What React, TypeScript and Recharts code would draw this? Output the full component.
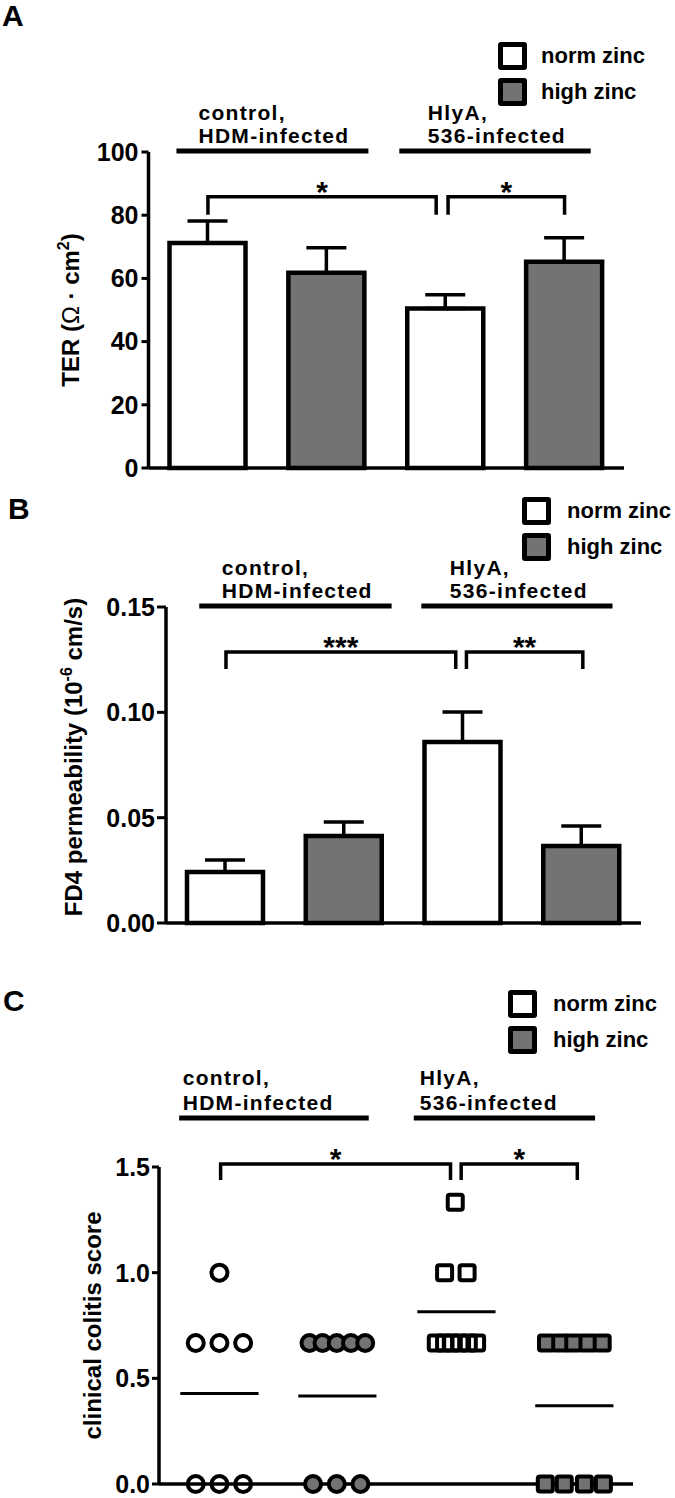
import React from "react"
import {
   BarChart, Bar, Cell, ErrorBar, XAxis, YAxis, Label, Legend,
   ReferenceLine, ReferenceDot, ScatterChart, Scatter,
} from "recharts"

const FONT = '"Liberation Sans", Arial, Helvetica, sans-serif'
const GRAY = "#737373"

// x order of the four groups
const categories = ["control norm zinc", "control high zinc", "HlyA norm zinc", "HlyA high zinc"]
const zincLevel = ["norm", "high", "norm", "high"]
const legendLabels = ["norm zinc", "high zinc"]
const groupNames = [["control,", "HDM-infected"], ["HlyA,", "536-infected"]]

// A: TER, mean + SEM
const terMean = [71.2, 61.8, 50.5, 65.3]
const terSem = [7.0, 7.9, 4.3, 7.6]
const terTicks = [0, 20, 40, 60, 80, 100]
const terSig = ["*", "*"]

// B: FD4 permeability, mean + SEM
const fd4Mean = [0.0242, 0.0413, 0.0859, 0.0365]
const fd4Sem = [0.0057, 0.0066, 0.0142, 0.0095]
const fd4Ticks = [0, 0.05, 0.1, 0.15]
const fd4Sig = ["***", "**"]

// C: clinical colitis score per animal, and its column-scatter position
const scoreCtrlNorm = [1.0, 0.667, 0.667, 0.667, 0, 0, 0]
const posCtrlNorm = [0.51, 0.31, 0.51, 0.71, 0.31, 0.51, 0.71]
const scoreCtrlHigh = [0.667, 0.667, 0.667, 0.667, 0.667, 0, 0, 0]
const posCtrlHigh = [1.27, 1.38, 1.5, 1.62, 1.74, 1.3, 1.5, 1.7]
const scoreHlyNorm = [1.333, 1.0, 1.0, 0.667, 0.667, 0.667, 0.667, 0.667, 0.667]
const posHlyNorm = [2.5, 2.41, 2.6, 2.34, 2.41, 2.47, 2.54, 2.61, 2.68]
const scoreHlyHigh = [0.667, 0.667, 0.667, 0.667, 0.667, 0, 0, 0, 0]
const posHlyHigh = [3.27, 3.39, 3.5, 3.62, 3.74, 3.26, 3.42, 3.59, 3.75]
const scoreTicks = [0, 0.5, 1.0, 1.5]
const scoreSig = ["*", "*"]

// slot index of each bar on the hidden numeric axis used for annotations
const terData = categories.map((c, i) => ({
   category: c, slot: i + 0.5, zinc: zincLevel[i], ter: terMean[i], terErr: [0, terSem[i]],
}))
const fd4Data = categories.map((c, i) => ({
   category: c, slot: i + 0.5, zinc: zincLevel[i], fd4: fd4Mean[i], fd4Err: [0, fd4Sem[i]],
}))
const scoreGroups = [
   { scores: scoreCtrlNorm, pos: posCtrlNorm, marker: "circle" },
   { scores: scoreCtrlHigh, pos: posCtrlHigh, marker: "circle" },
   { scores: scoreHlyNorm, pos: posHlyNorm, marker: "square" },
   { scores: scoreHlyHigh, pos: posHlyHigh, marker: "square" },
].map((g, i) => ({
   ...g,
   zinc: zincLevel[i],
   points: g.scores.map((s, j) => ({ x: g.pos[j], y: s })),
   mean: g.scores.reduce((a, b) => a + b, 0) / g.scores.length,
   center: (Math.min(...g.pos) + Math.max(...g.pos)) / 2,
}))

const zincFill = (z: string) => (z === "norm" ? "#fff" : GRAY)

const tickStyle = { fontSize: 25, fontWeight: 700, fill: "#000", fontFamily: FONT }
const axisLineStyle = { stroke: "#000", strokeWidth: 3.5 }
const tickLineStyle = { stroke: "#000", strokeWidth: 3 }

const YTitle = ({ viewBox, x, dy = 0, children }: any) => {
   const cy = viewBox.y + viewBox.height / 2 + dy
   return (
      <text x={x} y={cy} transform={`rotate(-90 ${x} ${cy})`} textAnchor="middle"
         fontFamily={FONT} fontWeight={700} fontSize={24} fill="#000">
         {children}
      </text>
   )
}

const ZincLegend = ({ gap }: { gap: number }) => (
   <div style={{ fontFamily: FONT, fontWeight: 700, fontSize: 22, color: "#000" }}>
      {legendLabels.map((lab, i) => (
         <div key={lab} style={{ display: "flex", alignItems: "center", height: 28, marginBottom: i === 0 ? 8 : 0, whiteSpace: "nowrap" }}>
            <div style={{ width: 29, height: 28, boxSizing: "border-box", border: "5px solid #000", borderRadius: 3, background: i === 0 ? "#fff" : GRAY }} />
            <span style={{ marginLeft: gap }}>{lab}</span>
         </div>
      ))}
   </div>
)

// group header: thick line plus two-line text above it
const headerText = (lines: string[], firstDy: number) => (p: any) => (
   <text x={p.cx} y={p.cy} fontFamily={FONT} fontWeight={700} fontSize={21} letterSpacing={1.3} fill="#000">
      <tspan x={p.cx} dy={firstDy}>{lines[0]}</tspan>
      <tspan x={p.cx} dy={-firstDy - 8}>{lines[1]}</tspan>
   </text>
)

const renderHeaders = (y: number, spans: number[][], labelX: number[], firstDy: number, xAxisId: any) =>
   spans.flatMap((s, i) => [
      <ReferenceLine key={`hl${i}`} xAxisId={xAxisId} ifOverflow="visible" stroke="#000" strokeWidth={5}
         segment={[{ x: s[0], y }, { x: s[1], y }]} />,
      <ReferenceDot key={`ht${i}`} xAxisId={xAxisId} x={labelX[i]} y={y} ifOverflow="visible"
         shape={headerText(groupNames[i], firstDy)} />,
   ])

// significance bracket with its stars
const bracketShape = (label: string, drop: number) => (p: any) => (
   <g>
      <path d={`M${p.x1},${p.y1 + drop}V${p.y1}H${p.x2}V${p.y1 + drop}`} fill="none" stroke="#000" strokeWidth={3.5} />
      <text x={(p.x1 + p.x2) / 2} y={p.y1 + 5} textAnchor="middle" fontFamily={FONT} fontWeight={700} fontSize={30} fill="#000">{label}</text>
   </g>
)

const renderBrackets = (y: number, spans: number[][], labels: string[], drop: number, xAxisId: any) =>
   spans.map((s, i) => (
      <ReferenceLine key={`br${i}`} xAxisId={xAxisId} ifOverflow="visible"
         segment={[{ x: s[0], y }, { x: s[1], y }]} shape={bracketShape(labels[i], drop)} />
   ))

const TerChart = () => (
   <BarChart width={675} height={490} data={terData} margin={{ top: 152, right: 51, bottom: 20, left: 0 }}>
      <XAxis dataKey="category" tick={false} tickLine={false} axisLine={axisLineStyle} height={2} />
      <XAxis xAxisId="num" dataKey="slot" type="number" domain={[0, 4]} hide allowDataOverflow />
      <YAxis width={148.5} domain={[0, 100]} ticks={terTicks} interval={0} tick={tickStyle}
         tickSize={7} tickMargin={3} tickLine={tickLineStyle} axisLine={axisLineStyle}>
         <Label content={(p: any) => (
            <YTitle viewBox={p.viewBox} x={79}>
               TER (<tspan fontWeight={400}>Ω</tspan>{"\u00a0\u00b7\u00a0"}cm<tspan dy={-10} fontSize={16}>2</tspan><tspan dy={10}>)</tspan>
            </YTitle>
         )} />
      </YAxis>
      <Bar dataKey="ter" barSize={76} stroke="#000" strokeWidth={4.5} isAnimationActive={false}>
         {terData.map((d) => <Cell key={d.category} fill={zincFill(d.zinc)} />)}
         <ErrorBar dataKey="terErr" width={20} stroke="#000" strokeWidth={3.5} direction="y" isAnimationActive={false} />
      </Bar>
      {renderHeaders(100.3, [[0.235, 1.85], [2.11, 3.72]], [0.42, 2.35], -31, "num")}
      {renderBrackets(85.8, [[0.5, 2.42], [2.52, 3.5]], terSig, 18, "num")}
      <Legend layout="horizontal" verticalAlign="middle" align="center" content={() => <ZincLegend gap={14} />}
         wrapperStyle={{ left: 498, top: 42, width: "auto" }} />
   </BarChart>
)

const Fd4Chart = () => (
   <BarChart width={675} height={460} data={fd4Data} margin={{ top: 127, right: 34, bottom: 15, left: 0 }}>
      <XAxis dataKey="category" tick={false} tickLine={false} axisLine={axisLineStyle} height={2} />
      <XAxis xAxisId="num" dataKey="slot" type="number" domain={[0, 4]} hide allowDataOverflow />
      <YAxis width={166} domain={[0, 0.15]} ticks={fd4Ticks} interval={0} tick={tickStyle}
         tickFormatter={(v: number) => v.toFixed(2)}
         tickSize={9} tickMargin={2} tickLine={tickLineStyle} axisLine={axisLineStyle}>
         <Label content={(p: any) => (
            <YTitle viewBox={p.viewBox} x={82} dy={-8}>
               FD4 permeability (10<tspan dy={-10} fontSize={16}>-6</tspan><tspan dy={10}> cm/s)</tspan>
            </YTitle>
         )} />
      </YAxis>
      <Bar dataKey="fd4" barSize={76} stroke="#000" strokeWidth={4.5} isAnimationActive={false}>
         {fd4Data.map((d) => <Cell key={d.category} fill={zincFill(d.zinc)} />)}
         <ErrorBar dataKey="fd4Err" width={20} stroke="#000" strokeWidth={3.5} direction="y" isAnimationActive={false} />
      </Bar>
      {renderHeaders(0.1505, [[0.28, 1.9], [2.15, 3.76]], [0.47, 2.39], -31, "num")}
      {renderBrackets(0.1286, [[0.505, 2.44], [2.53, 3.51]], fd4Sig, 17, "num")}
      <Legend layout="horizontal" verticalAlign="middle" align="center" content={() => <ZincLegend gap={16} />}
         wrapperStyle={{ left: 522, top: 17, width: "auto" }} />
   </BarChart>
)

const markerShape = (marker: string, fill: string) => (p: any) =>
   marker === "circle" ? (
      <circle cx={p.cx} cy={p.cy} r={8} fill={fill} stroke="#000" strokeWidth={4} />
   ) : (
      <rect x={p.cx - 7.5} y={p.cy - 7.5} width={15} height={15} rx={2} fill={fill} stroke="#000" strokeWidth={4} />
   )

const ScoreChart = () => (
   <ScatterChart width={675} height={558} margin={{ top: 227, right: 42, bottom: 12, left: 0 }}>
      <XAxis type="number" dataKey="x" domain={[0, 4]} allowDataOverflow tick={false} tickLine={false}
         axisLine={axisLineStyle} height={2} />
      <YAxis type="number" dataKey="y" width={159} domain={[0, 1.5]} ticks={scoreTicks} interval={0} tick={tickStyle}
         tickFormatter={(v: number) => v.toFixed(1)}
         tickSize={7} tickMargin={2} tickLine={tickLineStyle} axisLine={axisLineStyle}>
         <Label content={(p: any) => (
            <YTitle viewBox={p.viewBox} x={101}>clinical colitis score</YTitle>
         )} />
      </YAxis>
      {scoreGroups.map((g, i) => (
         <ReferenceLine key={`m${i}`} ifOverflow="visible" stroke="#000" strokeWidth={3}
            segment={[{ x: g.center - 0.33, y: g.mean }, { x: g.center + 0.33, y: g.mean }]} />
      ))}
      {scoreGroups.map((g, i) => (
         <Scatter key={`s${i}`} data={g.points} isAnimationActive={false}
            shape={markerShape(g.marker, g.zinc === "norm" ? "none" : GRAY)} />
      ))}
      {renderHeaders(1.732, [[0.17, 1.77], [2.15, 3.68]], [0.2, 2.2], -33, 0)}
      {renderBrackets(1.514, [[0.52, 2.46], [2.55, 3.53]], scoreSig, 16, 0)}
      <Legend layout="horizontal" verticalAlign="middle" align="center" content={() => <ZincLegend gap={16} />}
         wrapperStyle={{ left: 508, top: 50, width: "auto" }} />
   </ScatterChart>
)

const PanelLetter = ({ letter, left, top }: { letter: string; left: number; top: number }) => (
   <div style={{ position: "absolute", left, top, fontFamily: FONT, fontWeight: 700, fontSize: 30, lineHeight: 1 }}>
      {letter}
   </div>
)

export default function App() {
   return (
      <div style={{ position: "absolute", left: 0, top: 0, width: 675, height: 1498, background: "#fff", overflow: "hidden" }}>
         <div style={{ position: "absolute", left: 0, top: 0 }}><TerChart /></div>
         <div style={{ position: "absolute", left: 0, top: 480 }}><Fd4Chart /></div>
         <div style={{ position: "absolute", left: 0, top: 940 }}><ScoreChart /></div>
         <PanelLetter letter="A" left={2} top={1} />
         <PanelLetter letter="B" left={8} top={494} />
         <PanelLetter letter="C" left={3} top={986} />
      </div>
   )
}
